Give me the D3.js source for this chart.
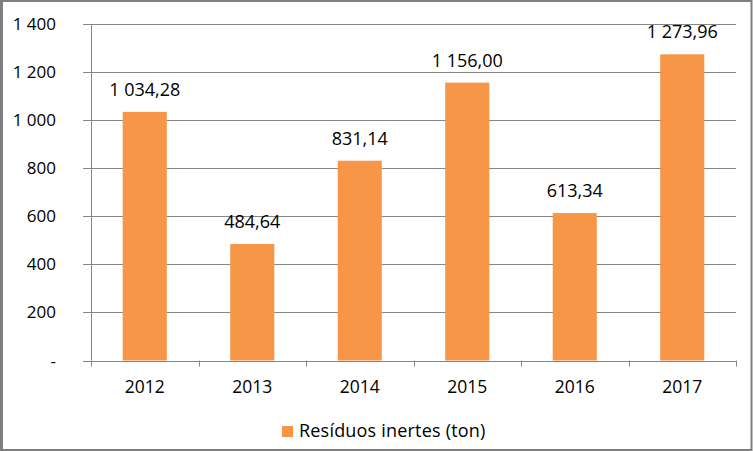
<!DOCTYPE html>
<html><head><meta charset="utf-8">
<script src="https://cdn.jsdelivr.net/npm/d3@7"></script>
<style>
html,body{margin:0;padding:0;background:#fff;}
svg{display:block;}
text{font-family:"Open Sans","Liberation Sans",sans-serif;fill:#000;}
</style></head>
<body>
<svg id="chart" width="753" height="451"></svg>
<script>
const categories = ["2012","2013","2014","2015","2016","2017"];
const values = [1034.28, 484.64, 831.14, 1156.00, 613.34, 1273.96];
const valueLabels = ["1 034,28","484,64","831,14","1 156,00","613,34","1 273,96"];
const yTicks = [0,200,400,600,800,1000,1200,1400];
const yTickLabels = ["-","200","400","600","800","1 000","1 200","1 400"];
const seriesName = "Resíduos inertes (ton)";

(function(){
const svg = d3.select("#chart");
const W = 753, H = 451;
svg.append("rect").attr("x",1.5).attr("y",1).attr("width",W-3).attr("height",H-2)
  .attr("fill","#fff").attr("stroke","#7f7f7f").attr("stroke-width",2);
svg.append("rect").attr("x",0).attr("y",0).attr("width",3).attr("height",H).attr("fill","#7f7f7f");

const pLeft = 91, pRight = 736, pTop = 24, pBottom = 360.5;
const x = d3.scaleBand().domain(categories).range([pLeft,pRight]).paddingInner(0.59).paddingOuter(0.295);
const xb = d3.scaleBand().domain(categories).range([pLeft,pRight]);
const y = d3.scaleLinear().domain([0,1400]).range([pBottom,pTop]);

const grid = "#868686";
svg.append("g").selectAll("line").data(yTicks.filter(d=>d>0)).join("line")
  .attr("x1",83).attr("x2",pRight).attr("y1",d=>Math.round(y(d))+0.5).attr("y2",d=>Math.round(y(d))+0.5)
  .attr("stroke",grid).attr("stroke-width",1);

svg.append("g").selectAll("rect").data(values).join("rect")
  .attr("x",(d,i)=>x(categories[i])).attr("width",x.bandwidth())
  .attr("y",d=>y(d)).attr("height",d=>pBottom-y(d))
  .attr("fill","#F79646");

svg.append("line").attr("x1",pLeft+0.5).attr("x2",pLeft+0.5).attr("y1",pTop).attr("y2",pBottom)
  .attr("stroke",grid);
svg.append("line").attr("x1",83).attr("x2",pRight).attr("y1",Math.round(pBottom)+0.5).attr("y2",Math.round(pBottom)+0.5)
  .attr("stroke",grid);
const bounds = categories.map(c=>xb(c)).concat([pRight]);
svg.append("g").selectAll("line").data(bounds).join("line")
  .attr("x1",d=>Math.round(d)+0.5).attr("x2",d=>Math.round(d)+0.5)
  .attr("y1",pBottom).attr("y2",pBottom+6).attr("stroke",grid);

svg.append("g").selectAll("text").data(yTicks).join("text")
  .attr("x",56).attr("y",d=>y(d)+6)
  .attr("text-anchor","end").attr("font-size",17)
  .text((d,i)=>yTickLabels[i]);

svg.append("g").selectAll("text").data(categories).join("text")
  .attr("x",d=>xb(d)+xb.bandwidth()/2).attr("y",393)
  .attr("text-anchor","middle").attr("font-size",17.5)
  .text(d=>d);

svg.append("g").selectAll("text").data(values).join("text")
  .attr("x",(d,i)=>x(categories[i])+x.bandwidth()/2).attr("y",d=>y(d)-16)
  .attr("text-anchor","middle").attr("font-size",18)
  .text((d,i)=>valueLabels[i]);

svg.append("rect").attr("x",282).attr("y",426).attr("width",11).attr("height",11).attr("fill","#F79646");
svg.append("text").attr("x",299).attr("y",437).attr("font-size",18).attr("letter-spacing",0.2).text(seriesName);
})();
</script>
</body></html>
